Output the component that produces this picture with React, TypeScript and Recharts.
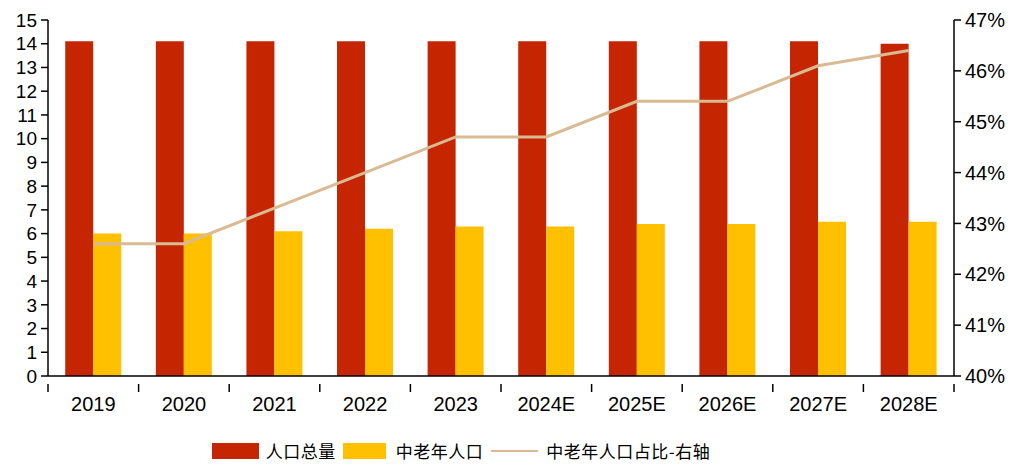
import React from "react";
import {
  ComposedChart,
  Bar,
  Line,
  XAxis,
  YAxis,
  Legend,
} from "recharts";

const years = ["2019", "2020", "2021", "2022", "2023", "2024E", "2025E", "2026E", "2027E", "2028E"];
const totalPop = [14.1, 14.1, 14.1, 14.1, 14.1, 14.1, 14.1, 14.1, 14.1, 14.0];
const elderPop = [6.0, 6.0, 6.1, 6.2, 6.3, 6.3, 6.4, 6.4, 6.5, 6.5];
const elderShare = [0.426, 0.426, 0.433, 0.44, 0.447, 0.447, 0.454, 0.454, 0.461, 0.464];

const leftTicks = [0, 1, 2, 3, 4, 5, 6, 7, 8, 9, 10, 11, 12, 13, 14, 15];
const rightTicks = [0.4, 0.41, 0.42, 0.43, 0.44, 0.45, 0.46, 0.47];

const RED = "#C62502";
const YELLOW = "#FFC000";
const TAN = "#D8BB93";
const FONT = "'Liberation Sans', Arial, sans-serif";
const CJK = "'Noto Sans CJK SC', 'Liberation Sans', sans-serif";

const W = 1028;
const H = 466;
const LEFT_W = 48;
const RIGHT_W = 74;
const STEP = (W - LEFT_W - RIGHT_W) / years.length;

const data = years.map((y, i) => ({
  year: y,
  total: totalPop[i],
  elder: elderPop[i],
  share: elderShare[i],
}));

const XTick = (props: any) => {
  const { x, y, payload, index } = props;
  const top = y;
  return (
    <g>
      <line x1={x - STEP / 2} x2={x - STEP / 2} y1={top} y2={top + 8} stroke="#000" strokeWidth={1.5} />
      {index === years.length - 1 && (
        <line x1={x + STEP / 2} x2={x + STEP / 2} y1={top} y2={top + 8} stroke="#000" strokeWidth={1.5} />
      )}
      <text x={x} y={top + 27} textAnchor="middle" fontSize={20} fontFamily={FONT} fill="#000">
        {payload.value}
      </text>
    </g>
  );
};

const LegendBox = () => (
  <div
    style={{
      display: "flex",
      justifyContent: "center",
      alignItems: "center",
      fontFamily: CJK,
      fontSize: 17,
      letterSpacing: 0.5,
      color: "#000",
      paddingRight: 106,
      paddingTop: 26,
      lineHeight: "18px",
    }}
  >
    <span style={{ width: 47, height: 16, background: RED, display: "inline-block", marginRight: 7 }} />
    <span style={{ marginRight: 7 }}>人口总量</span>
    <span style={{ width: 43, height: 16, background: YELLOW, display: "inline-block", marginRight: 10 }} />
    <span style={{ marginRight: 8 }}>中老年人口</span>
    <span style={{ width: 47, height: 2, background: TAN, display: "inline-block", marginRight: 8 }} />
    <span>中老年人口占比-右轴</span>
  </div>
);

export default function App() {
  return (
    <div style={{ position: "absolute", left: 0, top: 0, background: "#fff" }}>
      <ComposedChart
        width={W}
        height={H}
        data={data}
        margin={{ top: 20, right: 0, bottom: 0, left: 0 }}
        barGap={0}
        barCategoryGap="19%"
      >
        <XAxis
          dataKey="year"
          height={40}
          tickLine={false}
          tick={<XTick />}
          axisLine={{ stroke: "#000", strokeWidth: 1.5 }}
          interval={0}
        />
        <YAxis
          yAxisId="left"
          width={LEFT_W}
          domain={[0, 15]}
          ticks={leftTicks}
          interval={0}
          tickSize={7}
          tickMargin={4}
          axisLine={{ stroke: "#000", strokeWidth: 1.5 }}
          tickLine={{ stroke: "#000", strokeWidth: 1.5 }}
          tick={{ fill: "#000", fontSize: 19, fontFamily: FONT }}
        />
        <YAxis
          yAxisId="right"
          orientation="right"
          width={RIGHT_W}
          domain={[0.4, 0.47]}
          ticks={rightTicks}
          interval={0}
          tickSize={7}
          tickMargin={4}
          axisLine={{ stroke: "#000", strokeWidth: 1.5 }}
          tickLine={{ stroke: "#000", strokeWidth: 1.5 }}
          tick={{ fill: "#000", fontSize: 20, fontFamily: FONT }}
          tickFormatter={(v: number) => `${Math.round(v * 100)}%`}
        />
        <Legend verticalAlign="bottom" height={50} content={<LegendBox />} />
        <Bar yAxisId="left" dataKey="total" name="人口总量" fill={RED} isAnimationActive={false} />
        <Bar yAxisId="left" dataKey="elder" name="中老年人口" fill={YELLOW} isAnimationActive={false} />
        <Line
          yAxisId="right"
          dataKey="share"
          name="中老年人口占比-右轴"
          stroke={TAN}
          strokeWidth={3}
          dot={false}
          type="linear"
          isAnimationActive={false}
        />
      </ComposedChart>
    </div>
  );
}
